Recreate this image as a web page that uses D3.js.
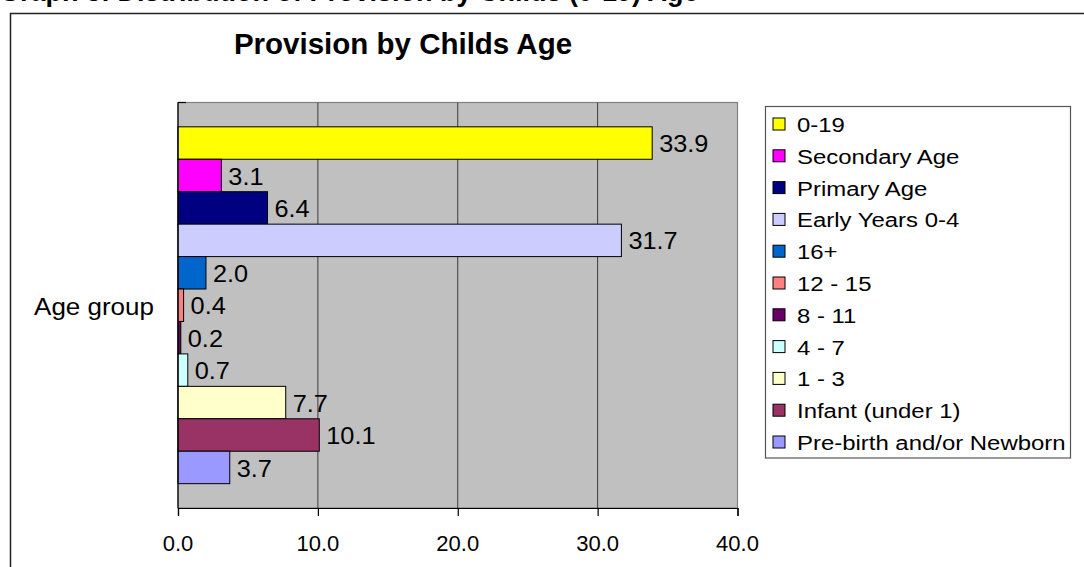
<!DOCTYPE html>
<html>
<head>
<meta charset="utf-8">
<script src="https://d3js.org/d3.v7.min.js"></script>
<style>
  body { margin: 0; background: #fff; }
  svg { display: block; font-family: "Liberation Sans", Arial, sans-serif; }
</style>
</head>
<body>
<div id="chart"></div>
<script>
// --- data ---
const categories = ["0-19", "Secondary Age", "Primary Age", "Early Years 0-4", "16+",
  "12 - 15", "8 - 11", "4 - 7", "1 - 3", "Infant (under 1)", "Pre-birth and/or Newborn"];
const values = [33.9, 3.1, 6.4, 31.7, 2.0, 0.4, 0.2, 0.7, 7.7, 10.1, 3.7];
const colors = ["#FFFF00", "#FF00FF", "#000080", "#CCCCFF", "#0066CC",
  "#FF8080", "#660066", "#CCFFFF", "#FFFFCC", "#993366", "#9999FF"];
const xTicks = [0, 10, 20, 30, 40];

(function() {
  const width = 1084, height = 567;
  const plot = { left: 178, right: 737.5, top: 102.5, bottom: 508 };

  const svg = d3.select("#chart").append("svg")
    .attr("width", width)
    .attr("height", height);

  // stretched text helper (source chart renders text a little wide)
  function label(g, x, y, txt, size, sx, anchor, weight) {
    return g.append("text")
      .attr("transform", `translate(${x},${y}) scale(${sx},1)`)
      .attr("text-anchor", anchor || "start")
      .attr("dominant-baseline", "central")
      .attr("font-size", size + "px")
      .attr("font-weight", weight || "normal")
      .attr("fill", "#000")
      .text(txt);
  }

  // cut-off heading above the chart box (only its lower edge shows)
  svg.append("text")
    .attr("x", -1).attr("y", 1)
    .attr("font-size", "27px").attr("font-weight", "bold")
    .text("Graph 3: Distribution of Provision by Childs (0-19) Age");

  // chart box (runs off right/bottom)
  svg.append("rect")
    .attr("x", 10.5).attr("y", 13.5)
    .attr("width", 1100).attr("height", 600)
    .attr("fill", "#fff").attr("stroke", "#222").attr("stroke-width", 1.5);

  // title
  label(svg, 403, 43, "Provision by Childs Age", 29.5, 1, "middle", "bold");

  const x = d3.scaleLinear().domain([0, 40]).range([plot.left, plot.right]);
  const y = d3.scaleBand().domain(categories)
    .range([plot.top, plot.bottom]).paddingInner(0).paddingOuter(0.75);

  // plot area
  svg.append("rect")
    .attr("x", plot.left).attr("y", plot.top)
    .attr("width", plot.right - plot.left).attr("height", plot.bottom - plot.top)
    .attr("fill", "#C0C0C0").attr("stroke", "#808080").attr("stroke-width", 1.2);

  // gridlines
  svg.append("g").selectAll("line")
    .data(xTicks.slice(1, -1))
    .join("line")
    .attr("x1", d => x(d)).attr("x2", d => x(d))
    .attr("y1", plot.top).attr("y2", plot.bottom)
    .attr("stroke", "#3a3a3a").attr("stroke-width", 1);

  // bars
  svg.append("g").selectAll("rect")
    .data(categories)
    .join("rect")
    .attr("x", x(0))
    .attr("y", d => y(d))
    .attr("width", (d, i) => x(values[i]) - x(0))
    .attr("height", y.bandwidth())
    .attr("fill", (d, i) => colors[i])
    .attr("stroke", "#000").attr("stroke-width", 1);

  // data labels
  const lab = svg.append("g");
  categories.forEach((c, i) => {
    label(lab, x(values[i]) + 7, y(c) + y.bandwidth() / 2 + 1, values[i].toFixed(1), 23, 1.1);
  });

  // x axis
  const xAxis = d3.axisBottom(x).tickValues(xTicks).tickFormat(d3.format(".1f"))
    .tickSize(8).tickPadding(0);
  const gx = svg.append("g")
    .attr("transform", `translate(0,${plot.bottom})`)
    .call(xAxis);
  gx.select(".domain").attr("stroke", "#000").attr("stroke-width", 1.2);
  gx.selectAll(".tick line").attr("stroke", "#000").attr("stroke-width", 1.2);
  gx.selectAll(".tick text").remove();
  xTicks.forEach(t => label(svg, x(t), 543, d3.format(".1f")(t), 22, 1.0, "middle"));

  // category axis line + inward tick at the top
  svg.append("line")
    .attr("x1", plot.left).attr("x2", plot.left)
    .attr("y1", plot.top).attr("y2", plot.bottom)
    .attr("stroke", "#000").attr("stroke-width", 1.2);
  svg.append("line")
    .attr("x1", plot.left).attr("x2", plot.left + 8)
    .attr("y1", plot.top).attr("y2", plot.top)
    .attr("stroke", "#000").attr("stroke-width", 1.2);

  label(svg, 94, 307, "Age group", 23, 1.13, "middle");

  // legend
  const lg = svg.append("g");
  lg.append("rect")
    .attr("x", 765.5).attr("y", 106.5).attr("width", 305).attr("height", 351.5)
    .attr("fill", "#fff").attr("stroke", "#555").attr("stroke-width", 1.2);
  categories.forEach((c, i) => {
    const cy = 124 + i * 31.8;
    lg.append("rect")
      .attr("x", 773).attr("y", cy - 6).attr("width", 12).attr("height", 12)
      .attr("fill", colors[i]).attr("stroke", "#000").attr("stroke-width", 1);
    label(lg, 797, cy + 1, c, 21, 1.14);
  });
})();
</script>
</body>
</html>
